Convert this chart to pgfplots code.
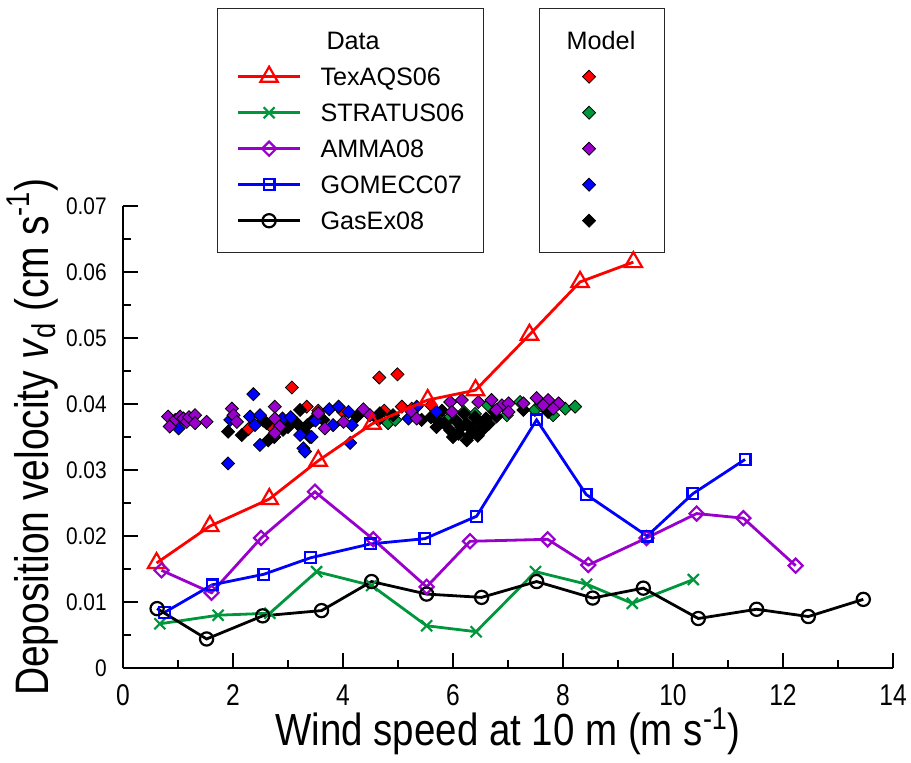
\documentclass[border=0pt]{standalone}
\usepackage{fontspec}
\setmainfont{Liberation Sans}
\usepackage{pgfplots}
\pgfplotsset{compat=1.18}
\definecolor{cgreen}{RGB}{0,150,60}
\definecolor{cpurple}{RGB}{153,0,204}
\begin{document}
\begin{tikzpicture}
\pgfplotsset{
  common/.style={width=385pt, height=231pt, scale only axis,
    xmin=0, xmax=14, ymin=0, ymax=0.07, clip=false},
  lg/.style={draw=black!85, line width=0.7pt, fill=white, anchor=north west,
    inner ysep=7pt, row sep=0pt, font=\fontsize{12.6}{15}\selectfont,
    nodes={inner xsep=0pt, inner ysep=3pt, text height=10.5pt, text depth=1.5pt}},
  mm/.style={only marks, mark=square*, mark size=2.3pt,
    mark options={rotate=45, draw=black, line width=0.4pt, fill=#1}},
}
% ---------------- model scatter (bottom layer) ----------------
\begin{axis}[common, hide axis, legend cell align=left,
  legend style={lg, at={(0.5403,1.4286)}, inner xsep=13.5pt,
    /tikz/every odd column/.append style={column sep=0pt}}]
\addlegendimage{legend image code/.code={\node[anchor=west, inner sep=0pt] at (0pt,0pt) {Model};}}
\addlegendentry{}
\addlegendimage{legend image code/.code={\draw[mark=square*, mark size=2.3pt, mark options={rotate=45, draw=black, line width=0.4pt, fill=red}] plot coordinates {(11.5pt,0pt)};}}
\addlegendentry{}
\addlegendimage{legend image code/.code={\draw[mark=square*, mark size=2.3pt, mark options={rotate=45, draw=black, line width=0.4pt, fill=cgreen}] plot coordinates {(11.5pt,0pt)};}}
\addlegendentry{}
\addlegendimage{legend image code/.code={\draw[mark=square*, mark size=2.3pt, mark options={rotate=45, draw=black, line width=0.4pt, fill=cpurple}] plot coordinates {(11.5pt,0pt)};}}
\addlegendentry{}
\addlegendimage{legend image code/.code={\draw[mark=square*, mark size=2.3pt, mark options={rotate=45, draw=black, line width=0.4pt, fill=blue}] plot coordinates {(11.5pt,0pt)};}}
\addlegendentry{}
\addlegendimage{legend image code/.code={\draw[mark=square*, mark size=2.3pt, mark options={rotate=45, draw=black, line width=0.4pt, fill=black}] plot coordinates {(11.5pt,0pt)};}}
\addlegendentry{}
% green
\addplot[mm=cgreen, forget plot] coordinates {
(4.82,0.0371)(4.95,0.0376)(5.76,0.0381)(5.90,0.0376)(6.20,0.0388)(6.40,0.0385)
(6.64,0.0398)(6.98,0.0383)(7.22,0.0403)(7.49,0.0391)(7.60,0.0398)(7.82,0.0383)
(8.04,0.0393)(8.22,0.0396)};
% red
\addplot[mm=red, forget plot] coordinates {
(2.28,0.0362)(2.55,0.0375)(2.70,0.0365)(3.07,0.0425)(3.34,0.0396)(3.55,0.0390)
(4.00,0.0388)(4.30,0.0385)(4.66,0.0440)(4.75,0.0390)(4.99,0.0445)(5.07,0.0396)
(5.25,0.0393)(5.60,0.0398)};
% black
\addplot[mm=black, forget plot] coordinates {
(1.91,0.0358)(2.16,0.0353)(2.61,0.0371)(2.64,0.0345)(2.75,0.0350)(2.91,0.0361)
(3.00,0.0365)(3.16,0.0371)(3.22,0.0391)(3.28,0.0361)(3.35,0.0368)(3.40,0.0350)
(3.46,0.0376)(3.64,0.0376)(4.25,0.0381)(4.64,0.0376)(4.67,0.0386)(4.91,0.0383)
(5.43,0.0376)(5.60,0.0380)(5.70,0.0365)(5.75,0.0372)(5.80,0.0390)(5.85,0.0370)
(5.95,0.0360)(6.05,0.0375)(6.10,0.0355)(6.15,0.0365)(6.20,0.0385)(6.25,0.0370)
(6.30,0.0352)(6.35,0.0360)(6.40,0.0380)(6.45,0.0372)(6.55,0.0362)(6.60,0.0378)
(6.65,0.0370)(6.75,0.0388)(6.79,0.0381)(7.28,0.0391)(7.73,0.0388)
(6.00,0.0350)(6.45,0.0352)(6.25,0.0345)};
% blue
\addplot[mm=blue, forget plot] coordinates {
(1.01,0.0363)(1.91,0.0310)(1.95,0.0376)(2.31,0.0381)(2.37,0.0415)(2.40,0.0368)
(2.49,0.0383)(2.49,0.0338)(2.90,0.0378)(3.05,0.0380)(3.22,0.0353)(3.28,0.0333)
(3.31,0.0328)(3.43,0.0350)(3.50,0.0375)(3.75,0.0392)(3.82,0.0368)(3.92,0.0396)
(4.10,0.0388)(4.13,0.0341)(4.16,0.0368)(5.19,0.0378)(5.34,0.0396)(5.70,0.0388)};
% purple
\addplot[mm=cpurple, forget plot] coordinates {
(0.82,0.0381)(0.95,0.0376)(1.04,0.0381)(1.10,0.0378)(1.16,0.0373)(1.20,0.0380)
(1.31,0.0383)(1.52,0.0373)(0.85,0.0366)(1.31,0.0371)(1.98,0.0393)(2.01,0.0383)
(2.07,0.0373)(2.76,0.0396)(2.76,0.0378)(2.85,0.0366)(2.76,0.0356)(3.55,0.0386)
(3.67,0.0363)(4.01,0.0373)(4.37,0.0392)(4.49,0.0383)(5.25,0.0388)(5.34,0.0378)
(5.95,0.0403)(6.16,0.0406)(5.98,0.0388)(6.46,0.0403)(6.70,0.0406)(6.89,0.0398)
(7.01,0.0401)(7.01,0.0388)(7.28,0.0401)(7.52,0.0409)(7.73,0.0406)(7.92,0.0401)
(7.64,0.0398)(6.79,0.0391)(7.82,0.0393)};
\end{axis}
% ---------------- measured data (top layer) ----------------
\begin{axis}[common, name=main,
  axis x line*=bottom, axis y line*=left,
  axis line style={-, line width=0.7pt, black},
  tick align=inside, major tick length=7.5pt, minor tick length=4pt,
  tick style={line width=0.7pt, black},
  xtick={0,2,4,6,8,10,12,14}, minor x tick num=1,
  ytick={0,0.01,0.02,0.03,0.04,0.05,0.06,0.07}, minor y tick num=1,
  scaled y ticks=false, scaled x ticks=false,
  yticklabels={0,0.01,0.02,0.03,0.04,0.05,0.06,0.07},
  xticklabels={0,2,4,6,8,10,12,14},
  /pgf/number format/assume math mode=true,
  xticklabel style={font=\fontsize{15}{15}\selectfont, xscale=0.82, inner sep=0pt},
  yticklabel style={font=\fontsize{12}{12}\selectfont, xscale=0.87, inner sep=0pt},
  xticklabel shift=8pt, yticklabel shift=8pt,
  xlabel={Wind speed at 10 m (m s\textsuperscript{-1})},
  ylabel={Deposition velocity \textit{v}\textsubscript{d} (cm s\textsuperscript{-1})},
  xlabel style={at={(axis description cs:0.5,-0.1667)}, anchor=base,
    font=\fontsize{22.5}{22.5}\selectfont, xscale=0.855},
  ylabel style={at={(axis description cs:-0.0974,0.5)}, anchor=base,
    font=\fontsize{23.5}{23.5}\selectfont, xscale=0.83},
  legend cell align=left,
  legend style={lg, at={(0.12208,1.4286)}, inner xsep=9.5pt,
    /tikz/every odd column/.append style={column sep=9.5pt}},
  legend image code/.code={\draw[mark repeat=2,mark phase=2,#1] plot coordinates {(0pt,0pt) (15.5pt,0pt) (31pt,0pt)};},
]
\addlegendimage{empty legend}
\addlegendentry{\hspace{3pt}Data}
\addplot[red, line width=1.4pt, mark=triangle, mark size=5pt, mark options={solid, line width=1.1pt}] coordinates {
(0.61,0.0159)(1.58,0.0215)(2.66,0.0256)(3.55,0.0314)(4.53,0.0370)(5.54,0.0406)
(6.41,0.0421)(7.39,0.0505)(8.31,0.0585)(9.28,0.0615)};
\addlegendentry{TexAQS06}
\addplot[cgreen, line width=1.4pt, mark=x, mark size=3.9pt, mark options={solid, line width=1.1pt}] coordinates {
(0.67,0.0067)(1.73,0.0080)(2.67,0.0083)(3.52,0.0146)(4.52,0.0125)(5.52,0.0064)
(6.42,0.0055)(7.50,0.0146)(8.43,0.0127)(9.26,0.0098)(10.37,0.0134)};
\addlegendentry{STRATUS06}
\addplot[cpurple, line width=1.4pt, mark=square, mark size=2.5pt, mark options={solid, rotate=45, line width=1.1pt}] coordinates {
(0.70,0.0148)(1.61,0.0114)(2.51,0.0197)(3.49,0.0267)(4.55,0.0195)(5.52,0.0123)
(6.31,0.0192)(7.72,0.0195)(8.46,0.0156)(9.52,0.0197)(10.43,0.0234)(11.28,0.0227)
(12.23,0.0155)};
\addlegendentry{AMMA08}
\addplot[blue, line width=1.4pt, mark=square, mark size=2.7pt, mark options={solid, line width=1.1pt}] coordinates {
(0.75,0.0084)(1.62,0.0126)(2.56,0.0142)(3.41,0.0167)(4.50,0.0188)(5.49,0.0196)
(6.43,0.0230)(7.52,0.0376)(8.42,0.0263)(9.53,0.0200)(10.36,0.0264)(11.31,0.0316)};
\addlegendentry{GOMECC07}
\addplot[black, line width=1.4pt, mark=o, mark size=3.3pt, mark options={solid, line width=1.1pt}] coordinates {
(0.62,0.0090)(1.52,0.0044)(2.54,0.0079)(3.61,0.0087)(4.52,0.0131)(5.52,0.0112)
(6.52,0.0107)(7.52,0.0131)(8.54,0.0106)(9.46,0.0121)(10.46,0.0075)(11.52,0.0089)
(12.46,0.0078)(13.46,0.0104)};
\addlegendentry{GasEx08}
\end{axis}
\pgfresetboundingbox
\path (main.south west) ++(-61.5pt,-47pt) rectangle ++(455.5pt,381pt);
\end{tikzpicture}
\end{document}
